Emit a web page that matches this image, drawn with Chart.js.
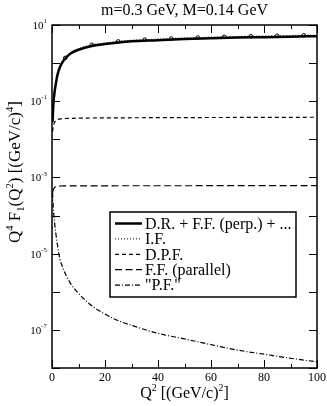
<!DOCTYPE html>
<html>
<head>
<meta charset="utf-8">
<script src="https://cdn.jsdelivr.net/npm/chart.js@4/dist/chart.umd.min.js"></script>
<style>
  html, body { margin: 0; padding: 0; background: #fff; }
  #grafico { display: block; }
</style>
</head>
<body>
<canvas id="grafico" width="327" height="406"></canvas>
<script>
// --- DATA ---
const q2 = [0.2, 0.5, 1, 1.5, 2, 3, 4, 5, 7, 10, 15, 20, 25, 30, 40, 50, 60, 70, 80, 90, 100];
const drPerp = [0.028, 0.079, 0.18, 0.30, 0.47, 0.79, 1.07, 1.32, 1.78, 2.24, 2.82, 3.16, 3.47, 3.72, 3.98, 4.27, 4.47, 4.68, 4.79, 4.95, 5.07];
const ifTerm = [0.029, 0.081, 0.185, 0.31, 0.48, 0.81, 1.10, 1.37, 1.86, 2.38, 3.02, 3.40, 3.72, 3.98, 4.27, 4.57, 4.79, 5.01, 5.13, 5.30, 5.43];
const dpf = [0.016, 0.022, 0.028, 0.031, 0.033, 0.034, 0.035, 0.0352, 0.0355, 0.036, 0.0363, 0.0365, 0.0367, 0.0368, 0.037, 0.0372, 0.0374, 0.0375, 0.0377, 0.0378, 0.038];
const ffPar = [4.0e-4, 4.8e-4, 5.5e-4, 5.8e-4, 5.9e-4, 5.95e-4, 6.0e-4, 6.0e-4, 6.0e-4, 6.0e-4, 6.0e-4, 6.0e-4, 6.05e-4, 6.05e-4, 6.05e-4, 6.05e-4, 6.1e-4, 6.1e-4, 6.1e-4, 6.1e-4, 6.1e-4];
const pf = [4.0e-4, 1.6e-4, 6.3e-5, 3.2e-5, 1.8e-5, 7.1e-6, 4.5e-6, 3.0e-6, 1.66e-6, 9.1e-7, 4.3e-7, 2.6e-7, 1.74e-7, 1.32e-7, 8.1e-8, 5.8e-8, 4.1e-8, 2.95e-8, 2.3e-8, 1.8e-8, 1.45e-8];
const markerQ2 = [5, 15, 25, 35, 45, 55, 65, 75, 85, 95];
const markerVals = [1.37, 3.02, 3.72, 4.12, 4.42, 4.68, 4.90, 5.07, 5.22, 5.37];

const legendLabels = ['D.R. + F.F. (perp.) + ...', 'I.F.', 'D.P.F.', 'F.F. (parallel)', '"P.F."'];
const xMajor = [0, 20, 40, 60, 80, 100];
const xMinor = [10, 30, 50, 70, 90];
const yDecades = [1, 0, -1, -2, -3, -4, -5, -6, -7, -8];
const yLabelExps = [1, -1, -3, -5, -7];
const titulo = 'm=0.3 GeV, M=0.14 GeV';

const SERIF = '"Liberation Serif", "Times New Roman", serif';

function pts(xs, ys) {
    return xs.map((x, i) => ({ x: x, y: ys[i] }));
}

// texto com expoentes/índices: partes [texto, modo] (1 = sobrescrito, -1 = subscrito)
function larguraRica(ctx, partes, size) {
    let w = 0;
    partes.forEach(([t, m]) => {
        ctx.font = (m ? size * 0.62 : size) + 'px ' + SERIF;
        w += ctx.measureText(t).width;
    });
    return w;
}
function textoRico(ctx, partes, x, y, size) {
    let cx = x;
    partes.forEach(([t, m]) => {
        const s = m ? size * 0.62 : size;
        ctx.font = s + 'px ' + SERIF;
        const dy = m === 1 ? -size * 0.42 : (m === -1 ? size * 0.22 : 0);
        ctx.fillText(t, cx, y + dy);
        cx += ctx.measureText(t).width;
    });
}

const moldura = {
    id: 'moldura',
    afterDraw(chart) {
        const ctx = chart.ctx;
        const a = chart.chartArea;
        const sx = chart.scales.x, sy = chart.scales.y;
        ctx.save();
        ctx.strokeStyle = '#000';
        ctx.fillStyle = '#000';

        // ticks para dentro (e espelhados)
        ctx.lineWidth = 1;
        ctx.beginPath();
        xMajor.forEach(v => {
            const p = Math.round(sx.getPixelForValue(v)) + 0.5;
            ctx.moveTo(p, a.bottom); ctx.lineTo(p, a.bottom - 8);
            ctx.moveTo(p, a.top); ctx.lineTo(p, a.top + 8);
        });
        xMinor.forEach(v => {
            const p = Math.round(sx.getPixelForValue(v)) + 0.5;
            ctx.moveTo(p, a.bottom); ctx.lineTo(p, a.bottom - 4);
            ctx.moveTo(p, a.top); ctx.lineTo(p, a.top + 4);
        });
        yDecades.forEach(e => {
            const p = Math.round(sy.getPixelForValue(Math.pow(10, e))) + 0.5;
            ctx.moveTo(a.left, p); ctx.lineTo(a.left + 8, p);
            ctx.moveTo(a.right, p); ctx.lineTo(a.right - 8, p);
        });
        ctx.stroke();

        // moldura
        ctx.lineWidth = 1.5;
        ctx.strokeRect(a.left, a.top, a.right - a.left, a.bottom - a.top);

        // rótulos do eixo Y (10^n)
        ctx.textBaseline = 'middle';
        ctx.textAlign = 'left';
        yLabelExps.forEach(e => {
            const p = sy.getPixelForValue(Math.pow(10, e));
            const partes = [['10', 0], [String(e), 1]];
            const w = larguraRica(ctx, partes, 11);
            textoRico(ctx, partes, a.left - 5 - w, p + 1, 11);
        });

        // título
        ctx.textBaseline = 'alphabetic';
        ctx.textAlign = 'center';
        ctx.font = '16px ' + SERIF;
        ctx.fillText(titulo, (a.left + a.right) / 2, 15);

        // título do eixo X
        ctx.textAlign = 'left';
        const xt = [['Q', 0], ['2', 1], [' [(GeV/c)', 0], ['2', 1], [']', 0]];
        const wx = larguraRica(ctx, xt, 16);
        textoRico(ctx, xt, (a.left + a.right) / 2 - wx / 2, 398, 16);

        // título do eixo Y (rotacionado)
        const yt = [['Q', 0], ['4', 1], [' F', 0], ['1', -1], ['(Q', 0], ['2', 1], [') [(GeV/c)', 0], ['4', 1], [']', 0]];
        const wy = larguraRica(ctx, yt, 17);
        ctx.save();
        ctx.translate(20, 172);
        ctx.rotate(-Math.PI / 2);
        textoRico(ctx, yt, -wy / 2, 0, 17);
        ctx.restore();

        // legenda com caixa
        const lx = 110, ly = 212, lw = 186, lh = 85;
        ctx.fillStyle = '#fff';
        ctx.fillRect(lx, ly, lw, lh);
        ctx.lineWidth = 1.5;
        ctx.strokeRect(lx, ly, lw, lh);
        ctx.fillStyle = '#000';
        ctx.font = '16px ' + SERIF;
        ctx.textBaseline = 'middle';
        legendLabels.forEach((txt, i) => {
            const ds = chart.data.datasets[i];
            const yy = ly + 11.5 + i * 15.4;
            ctx.save();
            ctx.lineWidth = ds.borderWidth;
            ctx.setLineDash(ds.borderDash || []);
            ctx.beginPath();
            ctx.moveTo(lx + 5, yy);
            ctx.lineTo(lx + 32, yy);
            ctx.stroke();
            ctx.restore();
            ctx.fillText(txt, lx + 35, yy + 1);
        });
        ctx.restore();
    }
};

const ctxGrafico = document.getElementById('grafico');
new Chart(ctxGrafico, {
    type: 'line',
    data: {
        datasets: [
            { label: legendLabels[0], data: pts(q2, drPerp), borderColor: '#000', borderWidth: 2.5, borderDash: [] },
            { label: legendLabels[1], data: pts(q2, ifTerm), borderColor: '#000', borderWidth: 1, borderDash: [1, 2] },
            { label: legendLabels[2], data: pts(q2, dpf), borderColor: '#000', borderWidth: 1.2, borderDash: [4, 3] },
            { label: legendLabels[3], data: pts(q2, ffPar), borderColor: '#000', borderWidth: 1.2, borderDash: [7, 3.5] },
            { label: legendLabels[4], data: pts(q2, pf), borderColor: '#000', borderWidth: 1.2, borderDash: [5, 2, 1, 2] },
            { label: 'pontos', data: pts(markerQ2, markerVals), showLine: false, pointRadius: 1.8,
              pointStyle: 'circle', pointBackgroundColor: '#fff', pointBorderColor: '#000', pointBorderWidth: 1 }
        ]
    },
    options: {
        responsive: false,
        devicePixelRatio: 1,
        animation: false,
        layout: { padding: { left: 0, right: 10, top: 25, bottom: 0 } },
        elements: {
            point: { radius: 0 },
            line: { fill: false, cubicInterpolationMode: 'monotone' }
        },
        scales: {
            x: {
                type: 'linear',
                min: 0,
                max: 100,
                ticks: {
                    stepSize: 20,
                    color: '#000',
                    padding: 3,
                    font: { family: SERIF, size: 12 }
                },
                grid: { display: false, drawTicks: false },
                border: { display: false },
                afterFit(s) { s.height = 38; s.paddingLeft = 0; s.paddingRight = 0; }
            },
            y: {
                type: 'logarithmic',
                min: 1e-8,
                max: 10,
                ticks: { display: false },
                grid: { display: false, drawTicks: false },
                border: { display: false },
                afterFit(s) { s.width = 52; }
            }
        },
        plugins: {
            legend: { display: false },
            tooltip: { enabled: false }
        }
    },
    plugins: [moldura]
});
</script>
</body>
</html>
